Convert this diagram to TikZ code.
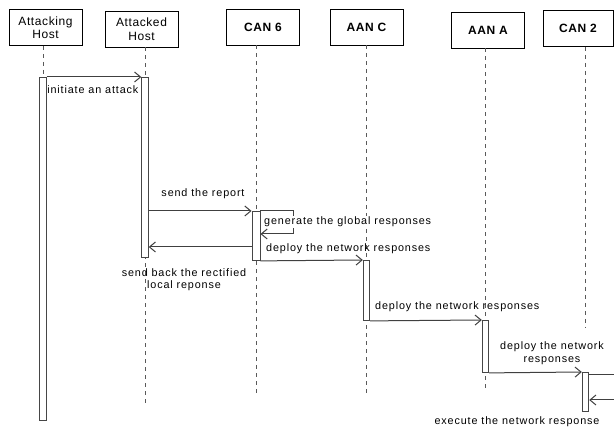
\documentclass[tikz,border=0pt]{standalone}
\usepackage{fontspec}
\setmainfont{Liberation Sans}
\newfontfamily\lblfont[LetterSpace=8]{Liberation Sans}
\newfontfamily\actfont[LetterSpace=5]{Liberation Sans}
\usetikzlibrary{arrows.meta}
\begin{document}
\begin{tikzpicture}[x=1pt,y=-1pt,
  actor/.style={draw=black,line width=0.8pt,fill=white,minimum width=73pt,minimum height=36pt,inner sep=1pt,align=center,font=\actfont\fontsize{12}{13.5}\selectfont},
  bactor/.style={actor,font=\actfont\fontsize{12}{13}\selectfont\bfseries},
  life/.style={draw=gray!70!black,line width=0.9pt,dash pattern=on 4pt off 4pt},
  bar/.style={draw=gray!55!black,line width=0.9pt,fill=white,inner sep=0pt,minimum width=6.5pt,anchor=north},
  msg/.style={draw=gray!50!black,line width=1pt,-{Straight Barb[length=6pt,width=10pt]}},
  lbl/.style={font=\lblfont\fontsize{10.8}{12.5}\selectfont,inner sep=0pt,align=center}]
\useasboundingbox (0,0) rectangle (614,427);
% actors
\node[actor]  (ah) at (45.5,27.5) {Attacking\\Host};
\node[actor]  (td) at (141.5,29)  {Attacked\\Host};
\node[bactor] (c6) at (263,27)    {CAN 6};
\node[bactor] (ac) at (366.5,27)  {AAN C};
\node[bactor] (aa) at (488,30)    {AAN A};
\node[bactor,minimum width=70pt] (c2) at (578,28.5) {CAN 2};
% lifeline ends
\coordinate (ahE) at (43,77);
\coordinate (tdE) at (145,403);
\coordinate (c6E) at (256,397);
\coordinate (acE) at (366.5,397);
\coordinate (aaE) at (485.5,392);
\coordinate (c2E) at (585,328);
\draw[life] (ah.south -| ahE) -- (ahE);
\draw[life] (td.south -| tdE) -- (tdE);
\draw[life] (c6.south -| c6E) -- (c6E);
\draw[life] (ac.south -| acE) -- (acE);
\draw[life] (aa.south -| aaE) -- (aaE);
\draw[life] (c2.south -| c2E) -- (c2E);
% activation bars
\node[bar,minimum height=343pt] (bah) at (43,77) {};
\node[bar,minimum height=180pt] (btd) at (145,77) {};
\node[bar,minimum height=49pt,minimum width=8pt] (bc6) at (256,211) {};
\node[bar,minimum height=60pt] (bac) at (366.5,260) {};
\node[bar,minimum height=52pt] (baa) at (485.5,320) {};
\node[bar,minimum height=39pt] (bc2) at (585.5,372) {};
% messages
\draw[msg] (bah.north east) -- (btd.north west);
\node[lbl,anchor=east] (l1) at (138.5,90) {initiate an attack};
\draw[msg] (btd.east |- bc6.north) -- (bc6.north west);
\node[lbl] (l2) at (203,194) {send the report};
\coordinate (g1) at (293,211);
\coordinate (g2) at (293,234);
\draw[msg] (bc6.north east) -- (g1) -- (g2) -- (g2 -| bc6.east);
\node[lbl,anchor=west,fill=white,inner sep=1pt] (l3) at (263,222) {generate the global responses};
\coordinate (r1) at (256,247);
\draw[msg] (r1 -| bc6.west) -- (r1 -| btd.east);
\node[lbl] (l4) at (184,279.5) {send back the rectified\\local reponse};
\draw[msg] (bc6.south east) -- (bac.north west);
\node[lbl,anchor=west] (l5) at (266,249) {deploy the network responses};
\draw[msg] (bac.south east) -- (baa.north west);
\node[lbl,anchor=west] (l6) at (375,307) {deploy the network responses};
\draw[msg] (baa.south east) -- (bc2.north west);
\node[lbl] (l7) at (552,353) {deploy the network\\responses};
\coordinate (x1) at (616,375);
\coordinate (x2) at (616,400);
\draw[draw=gray!50!black,line width=1pt] (x1 -| bc2.east) -- (x1);
\draw[msg] (x2) -- (x2 -| bc2.east);
\node[lbl] (l8) at (517,422) {execute the network response};
\end{tikzpicture}
\end{document}
